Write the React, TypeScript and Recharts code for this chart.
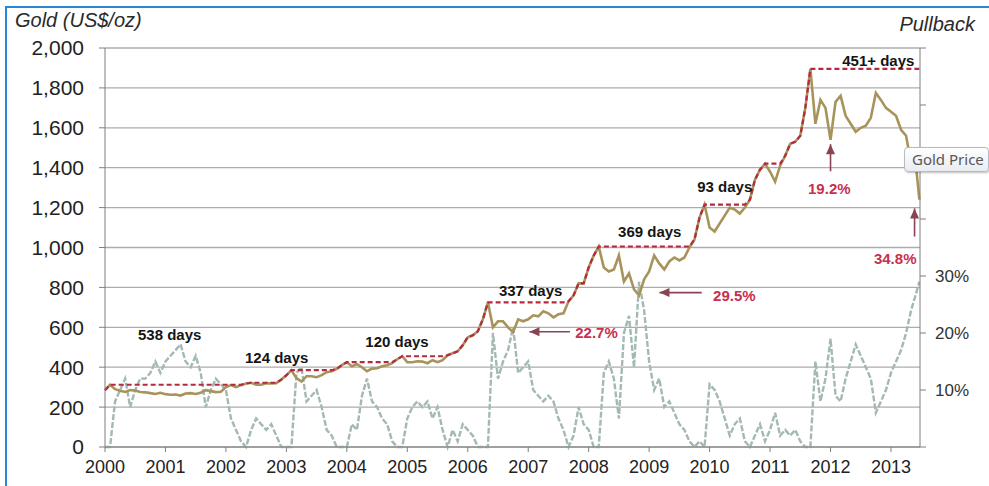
import React from 'react';
import {
  ComposedChart,
  Line,
  XAxis,
  YAxis,
  CartesianGrid,
  ReferenceDot,
  ReferenceLine,
} from 'recharts';

// ---------- data (monthly from Jan 2000, last point = late June 2013) ----------
const firstYear = 2000;
const lastDate = 2013.47;
const years = [2000, 2001, 2002, 2003, 2004, 2005, 2006, 2007, 2008, 2009, 2010, 2011, 2012, 2013];
const priceTicks = [0, 200, 400, 600, 800, 1000, 1200, 1400, 1600, 1800, 2000];
const pullbackTicks = [0, 10, 20, 30, 40, 50, 60, 70];
const pullbackLabelled = [10, 20, 30];

const goldPrice = [
  285, 312, 290, 282, 276, 285, 283, 276, 274, 270, 266, 272,
  265, 262, 263, 258, 268, 270, 266, 272, 285, 280, 275, 277,
  300, 310, 300, 310, 318, 322, 312, 312, 320, 318, 320, 338,
  360, 385, 345, 328, 355, 355, 350, 360, 375, 380, 392, 410,
  425, 405, 415, 400, 380, 393, 395, 405, 410, 420, 440, 455,
  425, 425, 430, 428, 420, 435, 425, 435, 460, 470, 480, 510,
  550, 560, 580, 640, 725, 600, 630, 630, 600, 575, 640, 630,
  640, 660, 655, 680, 670, 650, 665, 670, 730, 760, 820, 820,
  900, 960, 1005, 900, 880, 890, 960, 830, 870, 790, 760, 840,
  880, 960, 920, 890, 930, 950, 935, 950, 1000, 1040, 1150, 1215,
  1100, 1080, 1120, 1160, 1200, 1190, 1170, 1200, 1240, 1340, 1390, 1420,
  1380, 1330, 1410, 1460, 1520, 1530, 1560, 1700, 1895, 1620, 1740, 1700,
  1540, 1730, 1760, 1660, 1620, 1580, 1600, 1610, 1650, 1775, 1740, 1700,
  1680, 1660, 1590, 1560, 1420, 1400, 1240,
];

const runningPeak = [
  285, 312, 312, 312, 312, 312, 312, 312, 312, 312, 312, 312,
  312, 312, 312, 312, 312, 312, 312, 312, 312, 312, 312, 312,
  312, 312, 312, 312, 318, 322, 322, 322, 322, 322, 322, 338,
  360, 385, 385, 385, 385, 385, 385, 385, 385, 385, 392, 410,
  425, 425, 425, 425, 425, 425, 425, 425, 425, 425, 440, 455,
  455, 455, 455, 455, 455, 455, 455, 455, 460, 470, 480, 510,
  550, 560, 580, 640, 725, 725, 725, 725, 725, 725, 725, 725,
  725, 725, 725, 725, 725, 725, 725, 725, 730, 760, 820, 820,
  900, 960, 1005, 1005, 1005, 1005, 1005, 1005, 1005, 1005, 1005, 1005,
  1005, 1005, 1005, 1005, 1005, 1005, 1005, 1005, 1005, 1040, 1150, 1215,
  1215, 1215, 1215, 1215, 1215, 1215, 1215, 1215, 1240, 1340, 1390, 1420,
  1420, 1420, 1420, 1460, 1520, 1530, 1560, 1700, 1895, 1895, 1895, 1895,
  1895, 1895, 1895, 1895, 1895, 1895, 1895, 1895, 1895, 1895, 1895, 1895,
  1895, 1895, 1895, 1895, 1895, 1895, 1895,
];

const pullbackPct = [
  0, 0, 8, 10, 12, 7, 10, 12, 12, 13, 15, 13,
  15, 16, 17, 18, 15, 14, 16, 13, 7, 10, 12, 11,
  10, 5, 3, 1, 0, 3, 5, 4, 3, 4, 2, 0,
  0, 0, 13, 14, 8, 9, 10, 7, 3, 2, 0, 0,
  0, 4, 3, 9, 12, 8, 7, 5, 4, 1, 0, 0,
  5, 7, 8, 7, 8, 5, 7, 3, 0, 3, 1, 4,
  3, 2, 0, 0, 0, 20, 12, 15, 17, 21, 13, 14,
  15, 10, 9, 8, 9, 8, 5, 3, 0, 2, 7, 4,
  3, 0, 0, 13, 15, 12, 5, 20, 23, 14, 29, 24,
  15, 10, 12, 7, 8, 6, 4, 3, 1, 0, 1, 0,
  11, 10, 8, 5, 2, 4, 5, 1, 0, 2, 4, 1,
  3, 6, 2, 3, 2, 3, 1, 0, 0, 15, 8, 12,
  19, 9, 8, 12, 15, 18, 16, 14, 12, 6, 8, 10,
  13, 15, 17, 20, 24, 27, 29,
];

const dayNotes = [
  { text: '538 days', x: 2001.07, y: 563 },
  { text: '124 days', x: 2002.84, y: 447 },
  { text: '120 days', x: 2004.83, y: 528 },
  { text: '337 days', x: 2007.04, y: 784 },
  { text: '369 days', x: 2009.01, y: 1080 },
  { text: '93 days', x: 2010.25, y: 1306 },
  { text: '451+ days', x: 2012.79, y: 1935 },
];

const pctNotes = [
  { text: '22.7%', x: 2008.13, y: 573 },
  { text: '29.5%', x: 2010.41, y: 759 },
  { text: '19.2%', x: 2011.98, y: 1296 },
  { text: '34.8%', x: 2013.07, y: 945 },
];

const arrows = [
  { x1: 2007.69, y1: 578, x2: 2007.02, y2: 578, dir: 'left' },
  { x1: 2009.87, y1: 774, x2: 2009.17, y2: 774, dir: 'left' },
  { x1: 2012.0, y1: 1382, x2: 2012.0, y2: 1518, dir: 'up' },
  { x1: 2013.39, y1: 1055, x2: 2013.39, y2: 1196, dir: 'up' },
];

const data = goldPrice.map((g, i) => ({
  t: i < goldPrice.length - 1 ? firstYear + i / 12 : lastDate,
  gold: g,
  peak: runningPeak[i],
  pullback: pullbackPct[i],
}));

const FONT = "Arial, 'Liberation Sans', sans-serif";
const AXIS = '#7f7f7f';
const ARROW = '#8a4352';
const RED = '#c7304e';

const textShape = (text: string, color: string) => (p: any) => (
  <text
    x={p.cx}
    y={p.cy}
    textAnchor="middle"
    dominantBaseline="central"
    fontFamily={FONT}
    fontSize={15}
    fontWeight="bold"
    fill={color}
  >
    {text}
  </text>
);

const headShape = (dir: string) => (p: any) => {
  const { cx, cy } = p;
  const d =
    dir === 'left'
      ? `M${cx},${cy} L${cx + 10},${cy - 4.5} L${cx + 10},${cy + 4.5} Z`
      : `M${cx},${cy} L${cx - 4.5},${cy + 10} L${cx + 4.5},${cy + 10} Z`;
  return <path d={d} fill={ARROW} />;
};

export default function App() {
  return (
    <div style={{ position: 'absolute', left: 0, top: 0, width: 989, height: 486, background: '#fff', overflow: 'hidden' }}>
      <ComposedChart
        width={989}
        height={486}
        data={data}
        margin={{ top: 48, right: 9, bottom: 9, left: 45 }}
      >
        <CartesianGrid yAxisId="left" vertical={false} stroke="#acacac" strokeWidth={1.3} />
        <XAxis
          dataKey="t"
          type="number"
          domain={[2000, 2013.48]}
          ticks={years}
          interval={0}
          height={30}
          tickSize={5}
          tickMargin={8}
          stroke={AXIS}
          tick={{ fill: '#222', fontSize: 18, fontFamily: FONT }}
        />
        <YAxis
          yAxisId="left"
          domain={[0, 2000]}
          ticks={priceTicks}
          interval={0}
          width={60}
          tickSize={6}
          tickMargin={15}
          stroke={AXIS}
          tickFormatter={(v: number) => v.toLocaleString('en-US')}
          tick={{ fill: '#222', fontSize: 21, fontFamily: FONT }}
        />
        <YAxis
          yAxisId="right"
          orientation="right"
          domain={[0, 70]}
          ticks={pullbackTicks}
          interval={0}
          width={60}
          tickSize={6}
          tickMargin={9}
          stroke={AXIS}
          tickFormatter={(v: number) => (pullbackLabelled.includes(v) ? `${v}%` : '')}
          tick={{ fill: '#333', fontSize: 17, fontFamily: FONT }}
        />
        <Line
          yAxisId="right"
          dataKey="pullback"
          type="linear"
          stroke="#a3b9b1"
          strokeWidth={2.4}
          strokeDasharray="6 2"
          dot={false}
          isAnimationActive={false}
        />
        <Line
          yAxisId="left"
          dataKey="gold"
          type="linear"
          stroke="#a8935b"
          strokeWidth={2.6}
          dot={false}
          isAnimationActive={false}
        />
        <Line
          yAxisId="left"
          dataKey="peak"
          type="linear"
          stroke="#b8283f"
          strokeWidth={2.2}
          strokeDasharray="5 3"
          dot={false}
          isAnimationActive={false}
        />
        {arrows.map((a, i) => (
          <ReferenceLine
            key={`al${i}`}
            yAxisId="left"
            segment={[{ x: a.x1, y: a.y1 }, { x: a.x2, y: a.y2 }]}
            stroke={ARROW}
            strokeWidth={1.6}
          />
        ))}
        {arrows.map((a, i) => (
          <ReferenceDot
            key={`ah${i}`}
            yAxisId="left"
            x={a.x2}
            y={a.y2}
            r={0}
            shape={headShape(a.dir)}
          />
        ))}
        {dayNotes.map((n, i) => (
          <ReferenceDot key={`d${i}`} yAxisId="left" x={n.x} y={n.y} r={0} shape={textShape(n.text, '#151515')} />
        ))}
        {pctNotes.map((n, i) => (
          <ReferenceDot key={`p${i}`} yAxisId="left" x={n.x} y={n.y} r={0} shape={textShape(n.text, RED)} />
        ))}
      </ComposedChart>
      <svg width={989} height={486} style={{ position: 'absolute', left: 0, top: 0, pointerEvents: 'none' }}>
        <line x1={6} y1={7} x2={989} y2={7} stroke="#2b86d3" strokeWidth={2} />
        <line x1={6} y1={6} x2={6} y2={486} stroke="#2b86d3" strokeWidth={2} />
        <text x={15} y={27} fontFamily={FONT} fontStyle="italic" fontSize={20} fill="#2a2a2a">
          Gold (US$/oz)
        </text>
        <text x={975} y={31} textAnchor="end" fontFamily={FONT} fontStyle="italic" fontSize={20} fill="#2a2a2a">
          Pullback
        </text>
      </svg>
      <div
        style={{
          position: 'absolute',
          left: 904,
          top: 147,
          width: 85,
          height: 25,
          border: '1px solid #b7bac2',
          borderRadius: 4,
          background: 'linear-gradient(#ffffff, #e9ecf1)',
          boxShadow: '1px 1px 2px rgba(0,0,0,0.25)',
          fontFamily: "'Noto Sans', sans-serif",
          fontSize: 15,
          color: '#575757',
          lineHeight: '23px',
          paddingLeft: 7,
          boxSizing: 'border-box',
          whiteSpace: 'nowrap',
        }}
      >
        Gold Price
      </div>
    </div>
  );
}
